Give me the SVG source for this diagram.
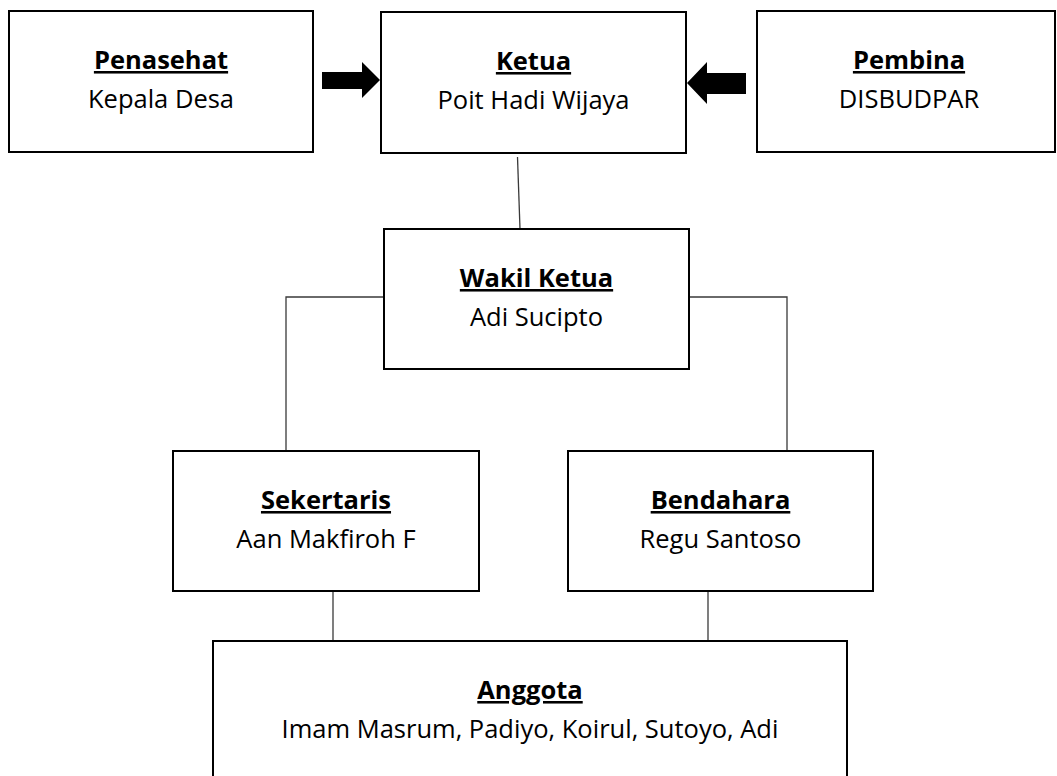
<svg xmlns="http://www.w3.org/2000/svg" width="1057" height="776" viewBox="0 0 1057 776">
<style>
.box{fill:#fff;stroke:#000;stroke-width:2}
.t{font-family:"Open Sans","Noto Sans",sans-serif;font-size:25.5px;fill:#000;text-anchor:middle}
.b{font-weight:bold;text-decoration:underline}
.c{fill:none;stroke:#3a3a3a;stroke-width:1.3}
.arr{fill:#000}
</style>
<rect width="1057" height="776" fill="#fff"/>
<g id="connectors">
<line class="c" x1="517.5" y1="157" x2="520" y2="229"/>
<polyline class="c" points="384,297 286,297 286,451"/>
<polyline class="c" points="689,297 787,297 787,451"/>
<line class="c" x1="333" y1="591" x2="333" y2="641"/>
<line class="c" x1="708" y1="591" x2="708" y2="641"/>
<polygon class="arr" points="322,72 362,72 362,62 380,80 362,98 362,89 322,89"/>
<polygon class="arr" points="746,73 707,73 707,62 687,83 707,104 707,94 746,94"/>
</g>
<g id="penasehat">
<rect class="box" x="9" y="11" width="304" height="141"/>
<text class="t b" x="161" y="69">Penasehat</text>
<text class="t" x="161" y="108">Kepala Desa</text>
</g>
<g id="ketua">
<rect class="box" x="381" y="12" width="305" height="141"/>
<text class="t b" x="533.5" y="70">Ketua</text>
<text class="t" x="533.5" y="109">Poit Hadi Wijaya</text>
</g>
<g id="pembina">
<rect class="box" x="757" y="11" width="298" height="141"/>
<text class="t b" x="909" y="69">Pembina</text>
<text class="t" x="909" y="108">DISBUDPAR</text>
</g>
<g id="wakil">
<rect class="box" x="384" y="229" width="305" height="140"/>
<text class="t b" x="536.5" y="287">Wakil Ketua</text>
<text class="t" x="536.5" y="326">Adi Sucipto</text>
</g>
<g id="sekertaris">
<rect class="box" x="173" y="451" width="306" height="140"/>
<text class="t b" x="326" y="509">Sekertaris</text>
<text class="t" x="326" y="548">Aan Makfiroh F</text>
</g>
<g id="bendahara">
<rect class="box" x="568" y="451" width="305" height="140"/>
<text class="t b" x="720.5" y="509">Bendahara</text>
<text class="t" x="720.5" y="548">Regu Santoso</text>
</g>
<g id="anggota">
<rect class="box" x="213" y="641" width="634" height="160"/>
<text class="t b" x="530" y="699">Anggota</text>
<text class="t" x="530" y="738">Imam Masrum, Padiyo, Koirul, Sutoyo, Adi</text>
</g>
</svg>
